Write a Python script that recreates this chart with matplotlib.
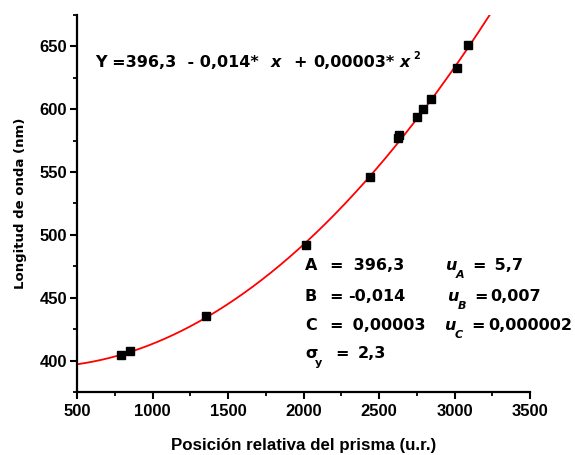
import numpy as np
import matplotlib
matplotlib.use("Agg")
import matplotlib.pyplot as plt
from matplotlib.ticker import MultipleLocator
from matplotlib.font_manager import FontProperties

# Measured prism positions (u.r.) and wavelengths (nm)
posicion = [789, 851, 1352, 2014, 2440, 2624, 2634, 2750, 2793, 2842, 3018, 3091]
longitud = [404.2, 407.7, 435.5, 491.8, 546.3, 577.0, 579.5, 593.9, 600.5, 608.2, 633.1, 651.3]

# Quadratic fit coefficients and their uncertainties
A, B, C = 396.3, -0.0140, 0.000031
uA, uB, uC = 5.7, 0.007, 0.000002
sigma_y = 2.3

W, H = 575, 455


def coma(v, nd):
    return f"{v:.{nd}f}".replace(".", ",")


fig = plt.figure(figsize=(W / 100, H / 100), dpi=100)
ax = fig.add_axes([77 / W, 1 - 392 / H, 453 / W, 377 / H])

xs = np.linspace(500, 3500, 400)
ax.plot(xs, A + B * xs + C * xs ** 2, color="red", lw=1.3, zorder=2)
ax.plot(posicion, longitud, "s", color="black", ms=5.5, zorder=3)

ax.set_xlim(500, 3500)
ax.set_ylim(375, 675)
ax.xaxis.set_major_locator(MultipleLocator(500))
ax.xaxis.set_minor_locator(MultipleLocator(250))
ax.yaxis.set_major_locator(MultipleLocator(50))
ax.yaxis.set_minor_locator(MultipleLocator(25))
ax.set_yticks([400, 450, 500, 550, 600, 650])

for s in ("top", "right"):
    ax.spines[s].set_visible(False)
for s in ("left", "bottom"):
    ax.spines[s].set_linewidth(1.6)
ax.tick_params(which="major", direction="out", length=5, width=1.5)
ax.tick_params(which="minor", direction="out", length=3, width=1.3)
tick_fp = FontProperties(family="Liberation Sans", weight="bold", size=12)
for lab in ax.get_xticklabels() + ax.get_yticklabels():
    lab.set_fontproperties(tick_fp)
ax.tick_params(axis="x", pad=4)
ax.tick_params(axis="y", pad=2)

ax.set_xlabel("Posición relativa del prisma (u.r.)", family="Liberation Sans",
              weight="bold", size=12.2, labelpad=13)
ax.set_ylabel("Longitud de onda (nm)", family="DejaVu Sans", weight="bold",
              size=9.5, labelpad=9)


def put(px, py, s, size, style="normal"):
    """Place bold text with its left baseline at pixel (px, py) from the top-left."""
    fig.text(px / W, 1 - py / H, s, family="DejaVu Sans", weight="bold",
             style=style, size=size, ha="left", va="baseline")


# Fitted equation
eq_size = 11.5
put(95, 67, f"Y ={coma(A, 1)}  - {coma(abs(B), 3)}*", eq_size)
put(271, 67, "x", eq_size, "italic")
put(293, 67, "+", eq_size)
put(313, 67, f"{coma(C, 5)}*", eq_size)
put(400, 67, "x", eq_size, "italic")
put(413, 59, "2", 7)

# Fit parameters and uncertainties
st = 11.5
sub = 8
rows = [
    ("A", f" {coma(A, 1)}", "A", f" {coma(uA, 1)}", 270, 354, 445, 495),
    ("B", coma(B, 3), "B", coma(uB, 3), 301, 348, 447, 490),
    ("C", f" {coma(C, 5)}", "C", coma(uC, 6), 330, 353, 444, 488),
]
for name, val, usub, uval, y, xv, xu, xuv in rows:
    put(305, y, name, st)
    put(329, y, "=", st)
    put(xv - (6 if val.startswith(" ") else 0), y, val, st)
    put(xu, y, "u", st, "italic")
    put(xu + 11, y + 8, usub, sub, "italic")
    put(xu + 27, y, "=", st)
    put(xuv - (6 if uval.startswith(" ") else 0), y, uval, st)

put(305, 358, "σ", st)
put(315, 366, "y", sub)
put(335, 358, "=", st)
put(358, 358, coma(sigma_y, 1), st)

fig.savefig("out.png", dpi=100)
